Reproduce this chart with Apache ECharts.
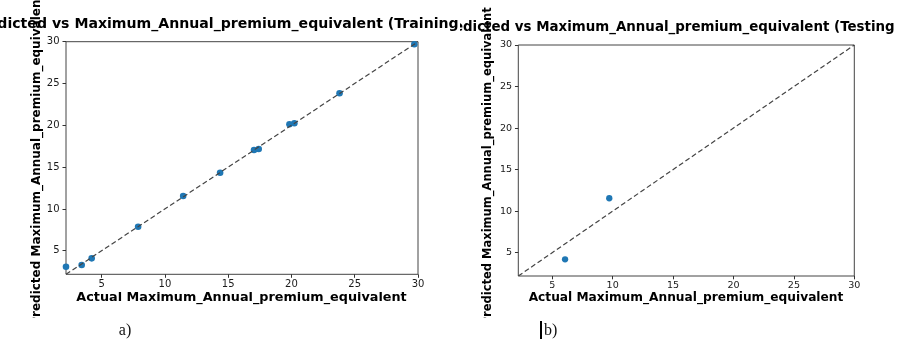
<!DOCTYPE html>
<html>
<head>
<meta charset="utf-8">
<script src="https://cdn.jsdelivr.net/npm/echarts@6/dist/echarts.min.js"></script>
<style>
  html, body { margin: 0; padding: 0; background: #fff; width: 915px; height: 347px; overflow: hidden; }
  .panel { position: absolute; overflow: hidden; }
</style>
</head>
<body>
<div id="captions" class="panel" style="left:0;top:0;width:915px;height:347px"></div>
<div id="train" class="panel" style="left:0;top:0;width:460px;height:318px"></div>
<div id="test" class="panel" style="left:460px;top:0;width:437px;height:318px"></div>
<script>
// Tick positions shared by both axes of both panels
const tickValues = [5, 10, 15, 20, 25, 30];

// Axis ranges (same for x and y in each panel)
const trainRange = [2.18, 30];
const testRange = [2.19, 30];

// Training data: actual vs predicted
const trainActual    = [2.18, 3.42, 4.21, 7.88, 11.44, 14.36, 17.04, 17.41, 19.84, 20.23, 23.80, 29.71];
const trainPredicted = [3.09, 3.29, 4.09, 7.87, 11.54, 14.33, 17.05, 17.17, 20.12, 20.24, 23.83, 29.70];

// Testing data: actual vs predicted
const testActual    = [6.06, 9.72];
const testPredicted = [4.20, 11.55];

const FONT = '"DejaVu Sans", "Liberation Sans", sans-serif';

function buildPanel(el, cfg) {
  const chart = echarts.init(el, null, { renderer: 'canvas' });
  const points = cfg.actual.map((a, i) => [a, cfg.predicted[i]]);
  const diag = [[cfg.range[0], cfg.range[0]], [cfg.range[1], cfg.range[1]]];
  const s = cfg.scale;

  const axisCommon = (pos) => ({
    type: 'value',
    position: pos,
    min: cfg.range[0],
    max: cfg.range[1],
    splitLine: { show: false },
    axisLine: { show: false },
    axisTick: {
      show: true,
      length: 3.5 * s,
      customValues: tickValues,
      lineStyle: { color: '#333', width: 1 }
    },
    axisLabel: {
      show: true,
      customValues: tickValues,
      margin: pos === 'left' ? 6.5 * s : 5 * s,
      color: '#1a1a1a',
      fontFamily: FONT,
      fontSize: 10 * s
    }
  });

  chart.setOption({
    animation: false,
    backgroundColor: 'transparent',
    grid: {
      left: cfg.grid.left, top: cfg.grid.top,
      width: cfg.grid.width, height: cfg.grid.height,
      show: true, borderColor: '#444', borderWidth: 1,
      backgroundColor: 'transparent', containLabel: false
    },
    xAxis: axisCommon('bottom'),
    yAxis: axisCommon('left'),
    series: [
      {
        type: 'scatter',
        data: points,
        symbol: 'circle',
        symbolSize: 6.6 * s,
        itemStyle: { color: '#1f77b4', opacity: 1 },
        clip: true,
        z: 2
      },
      {
        type: 'line',
        data: diag,
        symbol: 'none',
        lineStyle: { color: '#444', width: 1.2, type: [5, 2.8] },
        z: 3,
        silent: true
      }
    ],
    graphic: [
      {
        type: 'text', x: cfg.title.x, y: cfg.title.y,
        style: {
          text: cfg.title.text, fill: '#000',
          font: 'bold ' + cfg.title.size + 'px ' + FONT,
          textAlign: 'left', align: 'left',
          textVerticalAlign: 'middle', verticalAlign: 'middle'
        }
      },
      {
        type: 'text', x: cfg.xlabel.x, y: cfg.xlabel.y,
        style: {
          text: 'Actual Maximum_Annual_premium_equivalent', fill: '#000',
          font: 'bold ' + cfg.xlabel.size + 'px ' + FONT,
          textAlign: 'center', align: 'center',
          textVerticalAlign: 'middle', verticalAlign: 'middle'
        }
      },
      {
        type: 'text', x: cfg.ylabel.x, y: cfg.ylabel.y, rotation: Math.PI / 2,
        style: {
          text: 'Predicted Maximum_Annual_premium_equivalent', fill: '#000',
          font: 'bold ' + cfg.ylabel.size + 'px ' + FONT,
          textAlign: 'left', align: 'left',
          textVerticalAlign: 'middle', verticalAlign: 'middle'
        }
      }
    ]
  });
  return chart;
}

buildPanel(document.getElementById('train'), {
  actual: trainActual, predicted: trainPredicted, range: trainRange, scale: 1,
  grid: { left: 66, top: 41.7, width: 352, height: 232.6 },
  title: { text: 'Predicted vs Maximum_Annual_premium_equivalent (Training data)', x: -29.5, y: 24, size: 14.1 },
  xlabel: { x: 241.5, y: 297.3, size: 12.8 },
  ylabel: { x: 36.7, y: 325.8, size: 12 }
});

buildPanel(document.getElementById('test'), {
  actual: testActual, predicted: testPredicted, range: testRange, scale: 0.955,
  grid: { left: 58.3, top: 45, width: 336, height: 231 },
  title: { text: 'Predicted vs Maximum_Annual_premium_equivalent (Testing data)', x: -22.5, y: 28, size: 13.4 },
  xlabel: { x: 226, y: 298.3, size: 12.2 },
  ylabel: { x: 28, y: 325.4, size: 11.5 }
});

// Sub-figure captions below the two panels
const captions = echarts.init(document.getElementById('captions'), null, { renderer: 'canvas' });
captions.setOption({
  animation: false,
  graphic: [
    {
      type: 'text', x: 125, y: 331,
      style: {
        text: 'a)', fill: '#111', font: '16px "Liberation Serif", "DejaVu Serif", serif',
        textAlign: 'center', align: 'center', textVerticalAlign: 'middle', verticalAlign: 'middle'
      }
    },
    {
      type: 'rect', shape: { x: 540, y: 321, width: 2, height: 18 },
      style: { fill: '#000' }
    },
    {
      type: 'text', x: 544, y: 331,
      style: {
        text: 'b)', fill: '#111', font: '16px "Liberation Serif", "DejaVu Serif", serif',
        textAlign: 'left', align: 'left', textVerticalAlign: 'middle', verticalAlign: 'middle'
      }
    }
  ]
});
</script>
</body>
</html>
